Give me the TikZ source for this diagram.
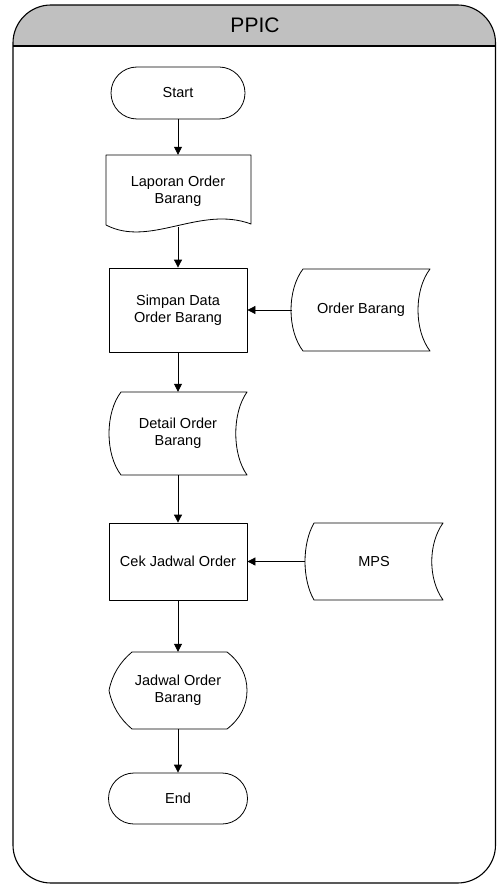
\documentclass[tikz,border=0pt]{standalone}
\usepackage{fontspec}
\setmainfont{Liberation Sans}
\usetikzlibrary{shapes.misc,arrows.meta}
\definecolor{lanegray}{RGB}{192,192,192}
\begin{document}
\begin{tikzpicture}[x=1pt,y=-1pt,
  every node/.style={font=\fontsize{14.5}{17}\selectfont, align=center, inner sep=0pt},
  outline/.style={draw, line width=0.8pt, line join=round},
  terminal/.style={outline, rounded rectangle, minimum width=134pt, minimum height=52pt},
  process/.style={outline, rectangle, minimum width=138pt, minimum height=77pt},
  shapebox/.style={rectangle, draw=none, minimum width=#1},
  arrow/.style={line width=0.8pt, -{Triangle[length=8pt,width=8pt]}}
]
\useasboundingbox (0,0) rectangle (497,885);

% swimlane frame with grey header
\begin{scope}
  \clip[rounded corners=38pt] (13,5) rectangle (495.5,883);
  \fill[lanegray] (13,5) rectangle (495.5,46);
\end{scope}
\draw[line width=1.1pt, rounded corners=38pt] (13,5) rectangle (495.5,883);
\draw[line width=1.1pt] (13,46) -- (495.5,46);
\node[font=\fontsize{21}{24}\selectfont] (lanetitle) at (255,25) {PPIC};

% start
\node[terminal] (start) at (178,93) {Start};

% document: Laporan Order Barang
\draw[outline] (106,155) -- (251,155) -- (251,224)
  .. controls (200,205) and (150,248) .. (106,225) -- cycle;
\node[shapebox=145pt, minimum height=72pt] (laporan) at (178,191) {Laporan Order\\Barang};

% process: Simpan Data Order Barang
\node[process, minimum height=84pt] (simpan) at (178,310) {Simpan Data\\Order Barang};

% stored data: Order Barang
\draw[outline] (303,269) -- (430,269)
  .. controls (414,290) and (414,330) .. (430,351) -- (303,351)
  .. controls (287,330) and (287,290) .. (303,269) -- cycle;
\node[shapebox=138pt, minimum height=82pt] (orderbrg) at (361,310) {Order Barang};

% stored data: Detail Order Barang
\draw[outline] (121,392) -- (247,392)
  .. controls (232,413) and (232,454) .. (247,475) -- (121,475)
  .. controls (105,454) and (105,413) .. (121,392) -- cycle;
\node[shapebox=138pt, minimum height=83pt] (detail) at (178,433.5) {Detail Order\\Barang};

% process: Cek Jadwal Order
\node[process] (cek) at (178,561.5) {Cek Jadwal Order};

% stored data: MPS
\draw[outline] (314,523) -- (443,523)
  .. controls (428,544) and (428,579) .. (443,600) -- (314,600)
  .. controls (302,579) and (302,544) .. (314,523) -- cycle;
\node[shapebox=138pt, minimum height=77pt] (mps) at (374,561.5) {MPS};

% display: Jadwal Order Barang
\draw[outline] (132,652) -- (227,652)
  .. controls (240,662) and (247,675) .. (247,690.5)
  .. controls (247,706) and (240,719) .. (227,729) -- (132,729)
  .. controls (120,719) and (112,706) .. (109,690.5)
  .. controls (112,675) and (120,662) .. (132,652) -- cycle;
\node[shapebox=138pt, minimum height=77pt] (jadwal) at (178,690.5) {Jadwal Order\\Barang};

% end
\node[terminal, minimum width=139pt, minimum height=51pt] (end) at (178,798.5) {End};

% connectors
\draw[arrow] (start.south) -- (laporan.north);
\draw[arrow] (laporan.south) -- (simpan.north);
\draw[arrow] (orderbrg.west) -- (simpan.east);
\draw[arrow] (simpan.south) -- (detail.north);
\draw[arrow] (detail.south) -- (cek.north);
\draw[arrow] (mps.west) -- (cek.east);
\draw[arrow] (cek.south) -- (jadwal.north);
\draw[arrow] (jadwal.south) -- (end.north);
\end{tikzpicture}
\end{document}
